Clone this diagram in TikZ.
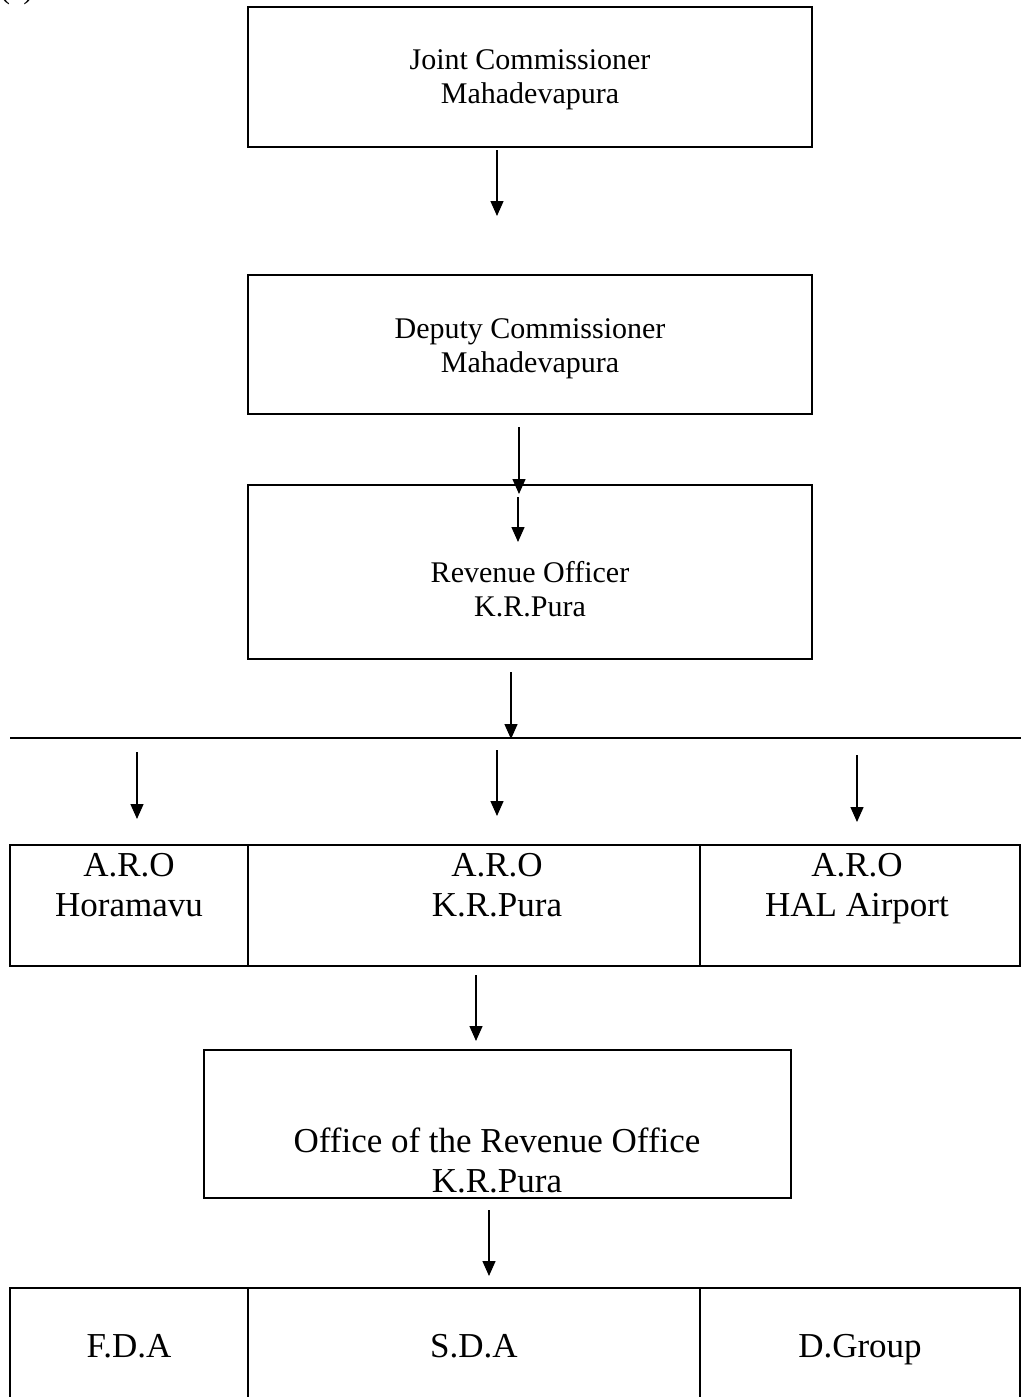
\documentclass[tikz,border=0pt]{standalone}
\usepackage{fontspec}
\setmainfont{Liberation Serif}
\usetikzlibrary{arrows.meta}
\begin{document}
\begin{tikzpicture}[x=1pt,y=-1pt,
  boxline/.style={draw=black,line width=1.8pt},
  small/.style={font=\fontsize{30}{34}\selectfont,align=center,inner sep=0pt},
  big/.style={font=\fontsize{35}{40}\selectfont,align=center,inner sep=0pt},
  arr/.style={line width=1.4pt,-{Triangle[length=15pt,width=13pt]}}]
\useasboundingbox (0,0) rectangle (1021,1397);
% clipped heading label at top-left
\node[anchor=base west,inner sep=0pt,font=\fontsize{30}{33}\selectfont] (hdr) at (0,-1) {(\phantom{c})};
% boxes
\draw[boxline] (248,7) rectangle (812,147);
\node[small] (jc) at (530,80) {Joint Commissioner\\Mahadevapura};
\draw[boxline] (248,275) rectangle (812,414);
\node[small] (dc) at (530,349) {Deputy Commissioner\\Mahadevapura};
\draw[boxline] (248,485) rectangle (812,659);
\node[small] (ro) at (530,589) {Revenue Officer\\K.R.Pura};
% arrows between upper boxes
\coordinate (a1s) at (497,150); \coordinate (a1e) at (497,216);
\draw[arr] (a1s) -- (a1e);
\coordinate (a2s) at (519,427); \coordinate (a2e) at (519,494);
\draw[arr] (a2s) -- (a2e);
\coordinate (a3s) at (518,497); \coordinate (a3e) at (518,542);
\draw[arr] (a3s) -- (a3e);
\coordinate (a4s) at (511,672); \coordinate (a4e) at (511,739);
\draw[arr] (a4s) -- (a4e);
% horizontal bar
\coordinate (hl) at (10,738); \coordinate (hr) at (1021,738);
\draw[boxline] (hl) -- (hr);
% branch arrows
\coordinate (b1s) at (137,752); \coordinate (b1e) at (137,819);
\draw[arr] (b1s) -- (b1e);
\coordinate (b2s) at (497,750); \coordinate (b2e) at (497,816);
\draw[arr] (b2s) -- (b2e);
\coordinate (b3s) at (857,755); \coordinate (b3e) at (857,822);
\draw[arr] (b3s) -- (b3e);
% ARO row
\draw[boxline] (10,845) rectangle (1020,966);
\draw[boxline] (248,845) -- (248,966);
\draw[boxline] (700,845) -- (700,966);
\node[big] (aro1) at (129,885) {A.R.O\\Horamavu};
\node[big] (aro2) at (497,885) {A.R.O\\K.R.Pura};
\node[big] (aro3) at (857,889) {A.R.O\\HAL Airport};
% arrow to office
\coordinate (c1s) at (476,975); \coordinate (c1e) at (476,1041);
\draw[arr] (c1s) -- (c1e);
\draw[boxline] (204,1050) rectangle (791,1198);
\node[big] (off) at (497,1160) {Office of the Revenue Office\\K.R.Pura};
% arrow to staff
\coordinate (d1s) at (489,1210); \coordinate (d1e) at (489,1276);
\draw[arr] (d1s) -- (d1e);
% bottom row
\draw[boxline] (10,1288) rectangle (1020,1420);
\draw[boxline] (248,1288) -- (248,1420);
\draw[boxline] (700,1288) -- (700,1420);
\node[big,anchor=base] (fda) at (129,1357) {F.D.A};
\node[big,anchor=base] (sda) at (474,1357) {S.D.A};
\node[big,anchor=base] (dg) at (860,1357) {D.Group};
\end{tikzpicture}
\end{document}
